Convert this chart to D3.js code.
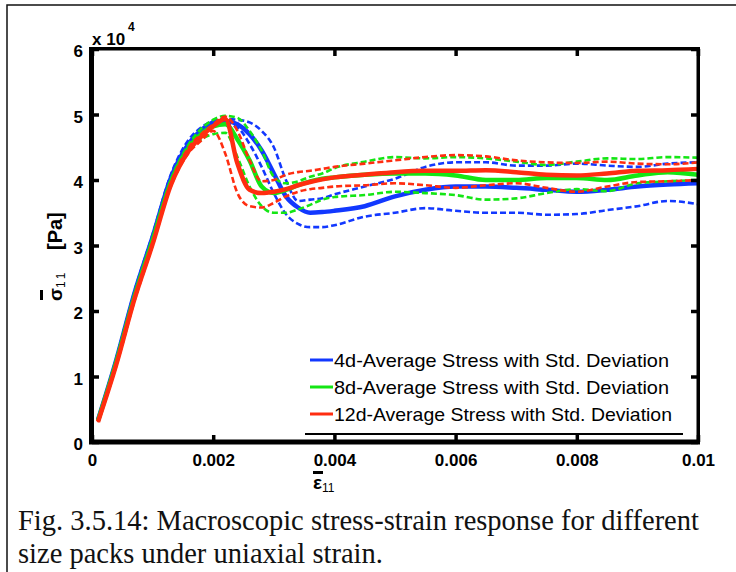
<!DOCTYPE html>
<html>
<head>
<meta charset="utf-8">
<script src="https://cdn.jsdelivr.net/npm/d3@7"></script>
<style>
  body { margin: 0; background: #fff; }
</style>
</head>
<body>
<div id="chart"></div>
<script>
// strain grid shared by every curve
const strain = [0.0001,0.0004,0.0007,0.001,0.0013,0.0016,0.0018,0.002,0.0022,0.0024,0.0026,0.0028,0.003,0.0032,0.0034,0.0036,0.0038,0.004,0.0045,0.005,0.0055,0.006,0.0065,0.007,0.0075,0.008,0.0085,0.009,0.0095,0.01]

// stress values in units of 1e4 Pa
const blueMean  = [0.34,1.25,2.27,3.13,4.03,4.56,4.76,4.88,4.9,4.85,4.7,4.45,4.1,3.75,3.58,3.5,3.51,3.53,3.6,3.75,3.85,3.9,3.9,3.88,3.85,3.82,3.85,3.9,3.93,3.95]
const blueUpper = [0.35,1.28,2.3,3.17,4.08,4.62,4.8,4.9,4.93,4.92,4.88,4.75,4.5,4.0,3.68,3.7,3.72,3.78,3.9,4.02,4.2,4.27,4.27,4.22,4.22,4.25,4.22,4.2,4.25,4.27]
const blueLower = [0.33,1.22,2.24,3.09,3.98,4.5,4.7,4.82,4.85,4.8,4.55,4.2,3.8,3.48,3.33,3.28,3.28,3.31,3.44,3.5,3.57,3.53,3.5,3.5,3.47,3.48,3.54,3.6,3.68,3.63]

const greenMean  = [0.33,1.22,2.22,3.08,3.97,4.5,4.7,4.82,4.85,4.62,4.3,3.9,3.8,3.85,3.92,3.98,4.02,4.04,4.08,4.1,4.1,4.07,4.0,4.0,4.03,4.03,4.0,4.07,4.12,4.08]
const greenUpper = [0.34,1.24,2.25,3.1,4.0,4.55,4.78,4.92,4.98,4.95,4.75,4.45,4.05,3.95,3.98,4.05,4.1,4.18,4.28,4.35,4.33,4.35,4.33,4.28,4.23,4.28,4.33,4.32,4.35,4.34]
const greenLower = [0.32,1.2,2.2,3.05,3.93,4.45,4.62,4.7,4.72,4.35,3.9,3.6,3.5,3.5,3.55,3.62,3.7,3.74,3.77,3.82,3.8,3.77,3.7,3.72,3.8,3.86,3.83,3.95,3.98,4.0]

const redMean  = [0.31,1.18,2.18,3.02,3.92,4.45,4.66,4.82,4.93,4.25,3.85,3.8,3.82,3.86,3.92,3.97,4.01,4.04,4.08,4.12,4.14,4.14,4.15,4.12,4.08,4.07,4.1,4.14,4.15,4.17]
const redUpper = [0.32,1.2,2.2,3.05,3.95,4.5,4.7,4.85,4.97,4.75,4.3,3.98,4.0,4.08,4.12,4.14,4.17,4.2,4.25,4.3,4.35,4.38,4.36,4.3,4.27,4.26,4.28,4.25,4.24,4.27]
const redLower = [0.3,1.16,2.15,3.0,3.9,4.42,4.6,4.75,4.4,3.8,3.6,3.58,3.65,3.75,3.82,3.86,3.88,3.9,3.92,3.95,3.92,3.88,3.92,3.95,3.88,3.82,3.9,3.97,3.98,4.0]

const legendLabels = ['4d-Average Stress with Std. Deviation', '8d-Average Stress with Std. Deviation', '12d-Average Stress with Std. Deviation']
const colors = ['#1238ff', '#14e614', '#ff2d10']
const xTicks = [0, 0.002, 0.004, 0.006, 0.008, 0.01]
const yTicks = [0, 1, 2, 3, 4, 5, 6]
const captionLines = ['Fig. 3.5.14: Macroscopic stress-strain response for different', 'size packs under uniaxial strain.']

const series = [
	{mean: blueMean, upper: blueUpper, lower: blueLower},
	{mean: greenMean, upper: greenUpper, lower: greenLower},
	{mean: redMean, upper: redUpper, lower: redLower}
]

let width = 736
let height = 572
let pLeft = 92, pRight = 698, pTop = 49, pBottom = 442

const svg = d3.select('#chart')
	.append('svg')
	.attr('width', width)
	.attr('height', height)

// outer frame
svg.append('rect')
	.attr('x', 7).attr('y', 5)
	.attr('width', 740).attr('height', 580)
	.attr('fill', 'none')
	.attr('stroke', '#111')
	.attr('stroke-width', 1.5)

let xScale = d3.scaleLinear().domain([0, 0.01]).range([pLeft, pRight])
let yScale = d3.scaleLinear().domain([0, 6]).range([pBottom, pTop])

svg.append('clipPath').attr('id', 'plotClip')
	.append('rect')
	.attr('x', pLeft).attr('y', pTop)
	.attr('width', pRight - pLeft).attr('height', pBottom - pTop)

let line = d3.line()
	.x((d, i) => xScale(strain[i]))
	.y(d => yScale(d))
	.curve(d3.curveMonotoneX)

let plot = svg.append('g').attr('clip-path', 'url(#plotClip)')

series.forEach(function(s, k){
	[s.upper, s.lower].forEach(function(arr){
		plot.append('path')
			.attr('d', line(arr))
			.attr('fill', 'none')
			.attr('stroke', colors[k])
			.attr('stroke-width', 2.6)
			.attr('stroke-dasharray', '6,3')
	})
	plot.append('path')
		.attr('d', line(s.mean))
		.attr('fill', 'none')
		.attr('stroke', colors[k])
		.attr('stroke-width', 4.5)
})

// axes, ticks pointing inward
const fontAxis = 'Liberation Sans, Arial, sans-serif'

let xAxis = g => g.attr('transform', `translate(0,${pBottom})`)
	.call(d3.axisBottom(xScale).tickValues(xTicks).tickSizeInner(-7).tickSizeOuter(0).tickPadding(12).tickFormat(d3.format('')))
let xTop = g => g.attr('transform', `translate(0,${pTop})`)
	.call(d3.axisTop(xScale).tickValues(xTicks).tickSizeInner(-7).tickSizeOuter(0).tickFormat(''))
let yAxis = g => g.attr('transform', `translate(${pLeft},0)`)
	.call(d3.axisLeft(yScale).tickValues(yTicks).tickSizeInner(-7).tickSizeOuter(0).tickPadding(9).tickFormat(d3.format('d')))
let yRight = g => g.attr('transform', `translate(${pRight},0)`)
	.call(d3.axisRight(yScale).tickValues(yTicks).tickSizeInner(-7).tickSizeOuter(0).tickFormat(''))

;[xAxis, xTop, yAxis, yRight].forEach(function(a){
	let g = svg.append('g').call(a)
	g.select('.domain').remove()
	g.selectAll('line').attr('stroke', '#000').attr('stroke-width', 3.5)
	g.selectAll('text')
		.attr('fill', '#000')
		.attr('font-family', fontAxis)
		.attr('font-weight', 'bold')
		.attr('font-size', 17)
})
svg.selectAll('.tick text').filter(function(){ return this.getAttribute('dy') == '0.32em' }).attr('dy', '0.45em')

// heavy plot box drawn as filled bars
let box = [
	[pLeft - 3, pBottom - 2.5, pRight - pLeft + 5, 5],
	[pLeft - 3, pTop - 2, 5, pBottom - pTop + 4],
	[pLeft - 3, pTop - 2, pRight - pLeft + 5, 3.5],
	[pRight - 1.5, pTop - 2, 3.5, pBottom - pTop + 4]
]
box.forEach(function(b){
	svg.append('rect')
		.attr('x', b[0]).attr('y', b[1]).attr('width', b[2]).attr('height', b[3])
		.attr('fill', '#000')
})

// exponent label
let expo = svg.append('text')
	.attr('x', 92).attr('y', 45)
	.attr('font-family', fontAxis)
	.attr('font-weight', 'bold')
	.attr('font-size', 17)
	.text('x 10')
expo.append('tspan').attr('font-size', 12).attr('dy', -14).attr('dx', 3).text('4')

// y label
let yl = svg.append('g').attr('transform', 'translate(62,301) rotate(-90)')
yl.append('text')
	.attr('font-family', fontAxis).attr('font-weight', 'bold').attr('font-size', 19)
	.text('σ')
yl.append('text')
	.attr('x', 13).attr('y', 3)
	.attr('font-family', fontAxis).attr('font-size', 12).attr('letter-spacing', 3)
	.text('11')
yl.append('text')
	.attr('x', 51)
	.attr('font-family', fontAxis).attr('font-weight', 'bold').attr('font-size', 20)
	.text('[Pa]')
yl.append('rect').attr('x', 1).attr('y', -22).attr('width', 10).attr('height', 3).attr('fill', '#000')

// x label
let xl = svg.append('text')
	.attr('x', 313).attr('y', 489)
	.attr('font-family', fontAxis)
	.attr('font-weight', 'bold')
	.attr('font-size', 19)
	.text('ε')
xl.append('tspan').attr('font-size', 12).attr('font-weight', 'normal').attr('dy', 3).text('11')
svg.append('rect').attr('x', 313).attr('y', 471).attr('width', 10).attr('height', 3).attr('fill', '#000')

// legend
let legendY = [360, 387, 414]
legendLabels.forEach(function(t, i){
	svg.append('line')
		.attr('x1', 310).attr('x2', 333)
		.attr('y1', legendY[i]).attr('y2', legendY[i])
		.attr('stroke', colors[i])
		.attr('stroke-width', 3)
	svg.append('text')
		.attr('x', 334).attr('y', legendY[i] + 7)
		.attr('font-family', fontAxis)
		.attr('font-size', 19)
		.attr('textLength', i == 2 ? 338 : 335)
		.attr('lengthAdjust', 'spacingAndGlyphs')
		.text(t)
})
svg.append('line')
	.attr('x1', 305).attr('x2', 683)
	.attr('y1', 434).attr('y2', 434)
	.attr('stroke', '#000')
	.attr('stroke-width', 2)

// caption
captionLines.forEach(function(t, i){
	svg.append('text')
		.attr('x', 18).attr('y', 530 + i * 33)
		.attr('font-family', 'Liberation Serif, Times New Roman, serif')
		.attr('font-size', 28.5)
		.attr('fill', '#111')
		.text(t)
})
</script>
</body>
</html>
